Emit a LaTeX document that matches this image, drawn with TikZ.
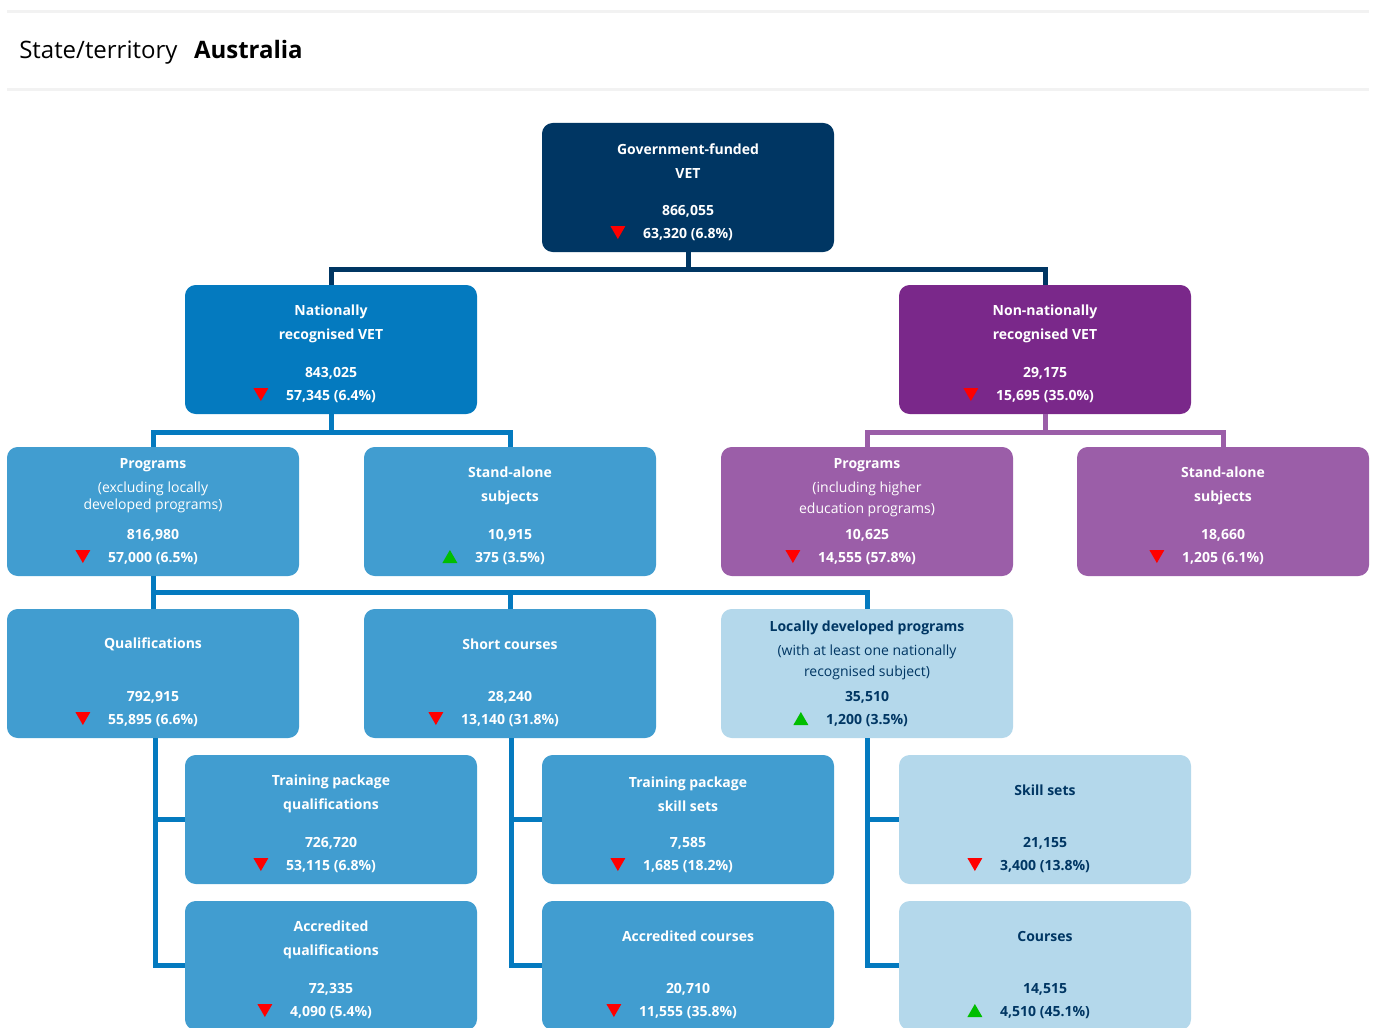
\documentclass[tikz,border=0pt]{standalone}
\usepackage{fontspec}
\setmainfont{Open Sans}
\usetikzlibrary{calc}
\definecolor{vetnavy}{RGB}{0,54,99}
\definecolor{natblue}{RGB}{4,122,191}
\definecolor{nonnat}{RGB}{122,40,138}
\definecolor{midblue}{RGB}{65,157,208}
\definecolor{midpurple}{RGB}{155,94,168}
\definecolor{paleblue}{RGB}{180,216,235}
\definecolor{rulegrey}{RGB}{242,242,242}
\definecolor{upgreen}{RGB}{0,190,0}
\tikzset{
  box/.style={rounded corners=8pt, minimum width=219pt, minimum height=96.75pt, inner sep=0pt},
  boxtext/.style={inner sep=0pt, align=center, font=\fontsize{10.5}{18}\selectfont\bfseries},
  wire/.style={line width=3.75pt},
}
% name, x, top, fill, ink, title offset, title, total, change
\newcommand{\vetbox}[9]{%
  \node[box, fill=#4] (#1) at (#2,#3+64.5) {};
  \node[boxtext, text=#5] (#1t) at (#2,#3+#6+1.5) {#7};
  \node[boxtext, text=#5] (#1n) at (#2,#3+88) {#8};
  \node[boxtext, text=#5] (#1c) at (#2,#3+111.5) {#9};
}
\newcommand{\fall}[1]{\fill[red] ($(#1c.west)+(-32.5,-8.5)$) -- ++(15,0) -- ++(-7.5,13) -- cycle;}
\newcommand{\rise}[1]{\fill[upgreen] ($(#1c.west)+(-32.5,4.5)$) -- ++(15,0) -- ++(-7.5,-13) -- cycle;}
\begin{document}
\begin{tikzpicture}[x=0.75pt,y=-0.75pt]
    \useasboundingbox (0,0) rectangle (1380,1027);
    %Header
    \draw[rulegrey, line width=2.25pt] (7,11.5) -- (1369,11.5);
    \draw[rulegrey, line width=2.25pt] (7,89.5) -- (1369,89.5);
    \node[anchor=base west, inner sep=0pt, font=\fontsize{18}{22}\selectfont] (state) at (19,59) {State/territory};
    \node[anchor=base west, inner sep=0pt, font=\fontsize{18}{22}\selectfont\bfseries] (aus) at ($(state.base east)+(16,0)$) {Australia};
    %Top
    \vetbox{gov}{688}{123}{vetnavy}{white}{37}{Government-funded\\VET}{866,055}{63,320 (6.8\%)}
    \fall{gov}
    %Nationally / non-nationally
    \vetbox{nat}{331}{285}{natblue}{white}{37}{Nationally\\recognised VET}{843,025}{57,345 (6.4\%)}
    \fall{nat}
    \vetbox{non}{1045}{285}{nonnat}{white}{37}{Non-nationally\\recognised VET}{29,175}{15,695 (35.0\%)}
    \fall{non}
    %Programs and subjects
    \vetbox{prog}{153}{447}{midblue}{white}{37}{Programs\\{\mdseries (excluding locally}\\[-5.25pt]{\mdseries developed programs)}}{816,980}{57,000 (6.5\%)}
    \fall{prog}
    \vetbox{stand}{510}{447}{midblue}{white}{37}{Stand-alone\\subjects}{10,915}{375 (3.5\%)}
    \rise{stand}
    \vetbox{hprog}{867}{447}{midpurple}{white}{39.5}{Programs\\{\mdseries (including higher}\\[-2.25pt]{\mdseries education programs)}}{10,625}{14,555 (57.8\%)}
    \fall{hprog}
    \vetbox{hstand}{1223}{447}{midpurple}{white}{37}{Stand-alone\\subjects}{18,660}{1,205 (6.1\%)}
    \fall{hstand}
    %Program types
    \vetbox{qual}{153}{609}{midblue}{white}{34}{Qualifications}{792,915}{55,895 (6.6\%)}
    \fall{qual}
    \vetbox{short}{510}{609}{midblue}{white}{34}{Short courses}{28,240}{13,140 (31.8\%)}
    \fall{short}
    \vetbox{local}{867}{609}{paleblue}{vetnavy}{39.5}{Locally developed programs\\{\mdseries (with at least one nationally}\\[-2.25pt]{\mdseries recognised subject)}}{35,510}{1,200 (3.5\%)}
    \rise{local}
    %Lowest rows
    \vetbox{tpq}{331}{755}{midblue}{white}{37.5}{Training package\\qualifications}{726,720}{53,115 (6.8\%)}
    \fall{tpq}
    \vetbox{tps}{688}{755}{midblue}{white}{37.5}{Training package\\skill sets}{7,585}{1,685 (18.2\%)}
    \fall{tps}
    \vetbox{skill}{1045}{755}{paleblue}{vetnavy}{34}{Skill sets}{21,155}{3,400 (13.8\%)}
    \fall{skill}
    \vetbox{accq}{331}{901}{midblue}{white}{37.5}{Accredited\\qualifications}{72,335}{4,090 (5.4\%)}
    \fall{accq}
    \vetbox{accc}{688}{901}{midblue}{white}{34}{Accredited courses}{20,710}{11,555 (35.8\%)}
    \fall{accc}
    \vetbox{course}{1045}{901}{paleblue}{vetnavy}{34}{Courses}{14,515}{4,510 (45.1\%)}
    \rise{course}
    %Connectors
    \draw[wire, vetnavy] (gov.south) -- ++(0,17) -| (nat.north);
    \draw[wire, vetnavy] (gov.south) -- ++(0,17) -| (non.north);
    \draw[wire, natblue] (nat.south) -- ++(0,18) -| (prog.north);
    \draw[wire, natblue] (nat.south) -- ++(0,18) -| (stand.north);
    \draw[wire, midpurple] (non.south) -- ++(0,18) -| (hprog.north);
    \draw[wire, midpurple] (non.south) -- ++(0,18) -| (hstand.north);
    \draw[wire, natblue] (prog.south) -- ++(0,16.5) -| (qual.north);
    \draw[wire, natblue] (prog.south) -- ++(0,16.5) -| (short.north);
    \draw[wire, natblue] (prog.south) -- ++(0,16.5) -| (local.north);
    \draw[wire, natblue] ($(qual.south)+(2,0)$) |- (tpq.west);
    \draw[wire, natblue] ($(qual.south)+(2,0)$) |- (accq.west);
    \draw[wire, natblue] ($(short.south)+(1,0)$) |- (tps.west);
    \draw[wire, natblue] ($(short.south)+(1,0)$) |- (accc.west);
    \draw[wire, natblue] (local.south) |- (skill.west);
    \draw[wire, natblue] (local.south) |- (course.west);
\end{tikzpicture}
\end{document}
